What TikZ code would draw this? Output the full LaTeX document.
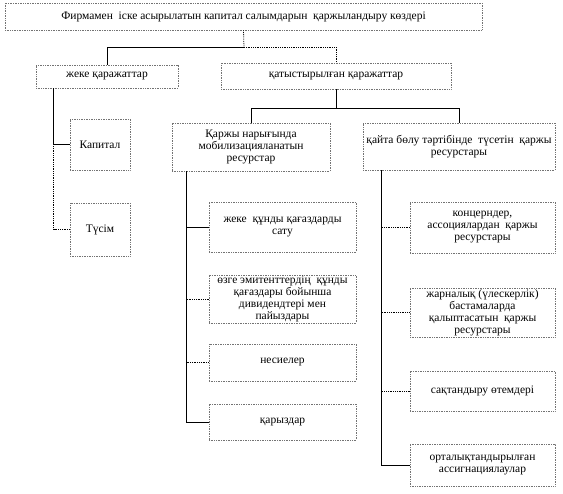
\documentclass[tikz,border=0pt]{standalone}
\usepackage{fontspec}
\setmainfont{Liberation Serif}
\usepackage{tikz}

\begin{document}
\begin{tikzpicture}[x=1pt, y=-1pt,
  box/.style={draw=black!55, densely dotted, line width=0.7pt, inner sep=1pt,
    align=center, font=\fontsize{11.5}{12}\selectfont},
  link/.style={draw=black, line width=0.8pt},
  dlink/.style={draw=black, line width=0.8pt, densely dotted}]
\useasboundingbox (0,0) rectangle (563,494);

\node[box, minimum width=477pt, minimum height=27pt] (title) at (243.5,16.5)
  {Фирмамен \ іске асырылатын капитал салымдарын \ қаржыландыру көздері};

\node[box, minimum width=142pt, minimum height=23pt] (own) at (107,76.5) {жеке қаражаттар};
\node[box, minimum width=230pt, minimum height=26pt] (att) at (336,76) {қатыстырылған қаражаттар};

\node[box, minimum width=60pt, minimum height=51pt] (cap) at (100,144.5) {Капитал};
\node[box, minimum width=60pt, minimum height=53pt] (rev) at (100,229.5) {Түсім};

\node[box, minimum width=158pt, minimum height=48pt] (mkt) at (251,147)
  {Қаржы нарығында\\мобилизацияланатын\\ресурстар};
\node[box, minimum width=192pt, minimum height=47pt] (redis) at (459,146.5)
  {қайта бөлу тәртібінде \ түсетін \ қаржы\\ресурстары};

% market resources
\node[box, minimum width=147pt, minimum height=50pt] (sale) at (282.5,227)
  {жеке \ құнды қағаздарды\\сату};
\node[box, minimum width=147pt, minimum height=48pt] (div) at (282.5,299)
  {өзге эмитенттердің \ құнды\\қағаздары бойынша\\дивидендтері мен\\пайыздары};
\node[box, minimum width=147pt, minimum height=37pt] (loan) at (282.5,362.5) {несиелер};
\node[box, minimum width=147pt, minimum height=36pt] (borrow) at (282.5,422) {қарыздар};

% redistributed resources
\node[box, minimum width=145pt, minimum height=51pt] (conc) at (482.5,227.5)
  {концерндер,\\ассоциялардан \ қаржы\\ресурстары};
\node[box, minimum width=145pt, minimum height=49pt] (contrib) at (482.5,312.5)
  {жарналық (үлескерлік)\\бастамаларда\\қалыптасатын \ қаржы\\ресурстары};
\node[box, minimum width=145pt, minimum height=40pt] (ins) at (482.5,391) {сақтандыру өтемдері};
\node[box, minimum width=145pt, minimum height=42pt] (central) at (482.5,465)
  {орталықтандырылған\\ассигнациялаулар};

\coordinate (tj) at (244,47);
\coordinate (aj) at (336,108);

\draw[dlink] (title.south) -- (tj);
\draw[link] (tj) -| (own.north);
\draw[dlink] (tj) -| (att.north);

\draw[link] (att.south) -- (aj);
\draw[link] (aj) -| (mkt.north);
\draw[link] (aj) -| (redis.north);

\draw[link] ([xshift=18pt]own.south west) |- (cap.west);
\draw[dlink] ([xshift=18pt]own.south west) |- (rev.west);

\draw[link] ([xshift=15pt]mkt.south west) |- (sale.west);
\draw[dlink] ([xshift=15pt]mkt.south west) |- (div.west);
\draw[dlink] ([xshift=15pt]mkt.south west) |- (loan.west);
\draw[link] ([xshift=15pt]mkt.south west) |- (borrow.west);

\draw[dlink] ([xshift=19pt]redis.south west) |- (conc.west);
\draw[dlink] ([xshift=19pt]redis.south west) |- (contrib.west);
\draw[dlink] ([xshift=19pt]redis.south west) |- (ins.west);
\draw[link] ([xshift=19pt]redis.south west) |- (central.west);
\end{tikzpicture}
\end{document}
